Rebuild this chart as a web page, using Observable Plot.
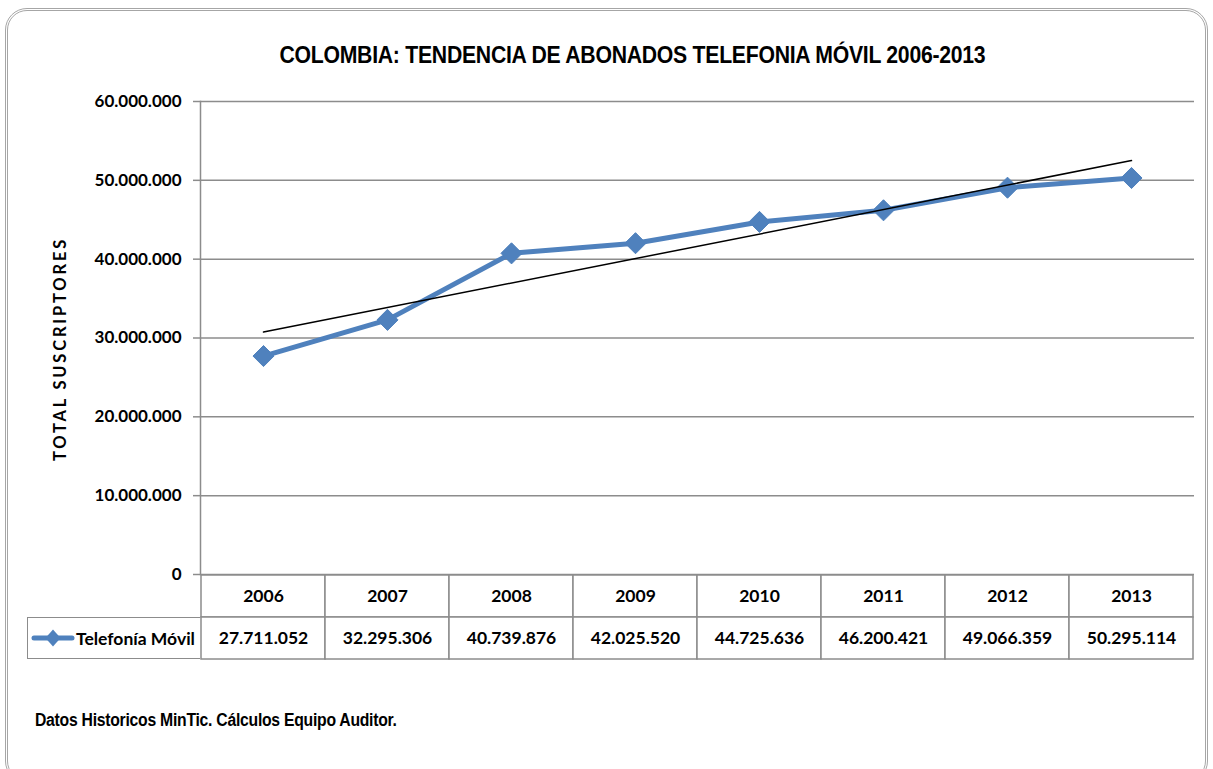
<!DOCTYPE html>
<html>
<head>
<meta charset="utf-8">
<script src="https://cdn.jsdelivr.net/npm/d3@7"></script>
<script src="https://cdn.jsdelivr.net/npm/@observablehq/plot@0.6"></script>
<style>
  html, body { margin: 0; padding: 0; background: #fff; }
  #wrap { position: relative; width: 1213px; height: 769px; overflow: hidden; background: #fff; }
  #frame { position: absolute; left: 5px; top: 8px; width: 1203px; height: 775px; border: 3px double #a6a6a6; border-radius: 22px; box-sizing: border-box; }
  #title { position: absolute; left: 26px; width: 1213px; top: 41px; text-align: center; font-family: "Liberation Sans", Arial, sans-serif; font-weight: bold; font-size: 24px; color: #000; transform: scaleX(0.884); transform-origin: 606px 0; white-space: nowrap; letter-spacing: -0.3px; }
  #ylabel { position: absolute; left: 60px; top: 349px; transform: translate(-50%, -50%) rotate(-90deg); font-family: "Lato", "Open Sans", sans-serif; font-weight: bold; font-size: 16.5px; letter-spacing: 2.8px; white-space: nowrap; }
  #caption { position: absolute; left: 35px; top: 710px; font-family: "Liberation Sans", Arial, sans-serif; font-weight: bold; font-size: 18px; transform: scaleX(0.875); transform-origin: 0 0; white-space: nowrap; letter-spacing: -0.3px; }
  #main { position: absolute; left: 0; top: 0; }
  #table { position: absolute; left: 0; top: 574px; }
  #legend { position: absolute; left: 27px; top: 617px; width: 173px; height: 42px; border: 1.5px solid #8c8c8c; border-right: none; box-sizing: border-box; display: flex; align-items: center; font-family: "Lato", "Open Sans", sans-serif; font-weight: bold; font-size: 17.5px; }
</style>
</head>
<body>
<div id="wrap">
  <div id="frame"></div>
  <div id="title">COLOMBIA: TENDENCIA DE ABONADOS TELEFONIA MÓVIL 2006-2013</div>
  <div id="main"></div>
  <div id="table"></div>
  <div id="legend"></div>
  <div id="ylabel">TOTAL SUSCRIPTORES</div>
  <div id="caption">Datos Historicos MinTic. Cálculos Equipo Auditor.</div>
</div>
<script>
const years = ["2006", "2007", "2008", "2009", "2010", "2011", "2012", "2013"];
const subscribers = [27711052, 32295306, 40739876, 42025520, 44725636, 46200421, 49066359, 50295114];
const yTicks = [0, 10000000, 20000000, 30000000, 40000000, 50000000, 60000000];
const seriesName = "Telefonía Móvil";
const rows = ["year", "value"];

const data = years.map((y, i) => ({year: y, value: subscribers[i]}));
const fmt = v => d3.format(",")(v).replace(/,/g, ".");

// linear trend (least squares over index)
const n = subscribers.length;
const mx = d3.mean(d3.range(n));
const my = d3.mean(subscribers);
const slope = d3.sum(subscribers, (v, i) => (i - mx) * (v - my)) / d3.sum(d3.range(n), i => (i - mx) ** 2);
const trend = [
  {year: years[0], value: my + slope * (0 - mx)},
  {year: years[n - 1], value: my + slope * (n - 1 - mx)}
];

const blue = "#4f81bd";
const grid = "#8c8c8c";
const W = 1213;

const main = Plot.plot({
  width: W,
  height: 620,
  marginTop: 101,
  marginBottom: 46,
  marginLeft: 200,
  marginRight: 19,
  style: {fontFamily: "Lato, 'Open Sans', sans-serif", background: "transparent", overflow: "visible"},
  x: {type: "band", domain: years, padding: 0, axis: null},
  y: {domain: [0, 60000000], ticks: yTicks},
  marks: [
    Plot.gridY(yTicks, {stroke: grid, strokeOpacity: 1, strokeWidth: 1.5}),
    Plot.axisY(yTicks, {tickFormat: fmt, tickSize: 7, stroke: grid, strokeWidth: 1.5, tickPadding: 12, fontSize: 17, fontWeight: "bold", fill: "#000", label: null}),
    Plot.frame({anchor: "left", stroke: grid, strokeWidth: 1.5}),
    Plot.line(data, {x: "year", y: "value", stroke: blue, strokeWidth: 5, strokeLinejoin: "round"}),
    Plot.dot(data, {x: "year", y: "value", symbol: "diamond2", r: 9.5, fill: blue, stroke: blue, strokeWidth: 1}),
    Plot.line(trend, {x: "year", y: "value", stroke: "#000", strokeWidth: 1.5})
  ]
});
document.getElementById("main").appendChild(main);

const cells = [];
years.forEach((y, i) => {
  cells.push({year: y, row: "year", label: y});
  cells.push({year: y, row: "value", label: fmt(subscribers[i])});
});

const table = Plot.plot({
  width: W,
  height: 85,
  marginTop: 0,
  marginBottom: 0,
  marginLeft: 200,
  marginRight: 19,
  style: {fontFamily: "Lato, 'Open Sans', sans-serif", background: "transparent", overflow: "visible"},
  x: {type: "band", domain: years, padding: 0, axis: null},
  y: {type: "band", domain: rows, padding: 0, axis: null},
  marks: [
    Plot.cell(cells, {x: "year", y: "row", fill: "#fff", stroke: grid, strokeWidth: 1.5}),
    Plot.text(cells, {x: "year", y: "row", text: "label", fontSize: 17.5, fontWeight: "bold", fill: "#000"})
  ]
});
document.getElementById("table").appendChild(table);

const legend = document.getElementById("legend");
legend.innerHTML = `<svg width="44" height="20" style="margin-left:3px;margin-right:1px"><line x1="3" y1="10" x2="41" y2="10" stroke="${blue}" stroke-width="5" stroke-linecap="round"/><path d="M22 1.5 L29.5 10 L22 18.5 L14.5 10 Z" fill="${blue}"/></svg><span>${seriesName}</span>`;
</script>
</body>
</html>
